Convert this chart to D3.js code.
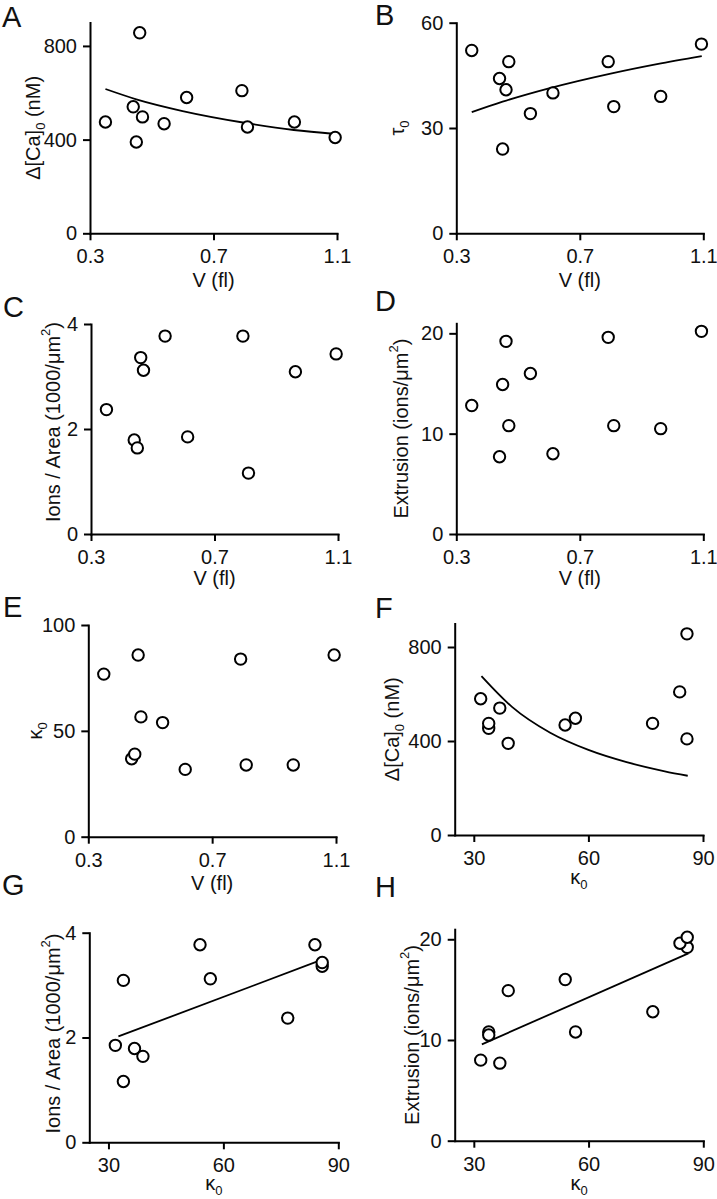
<!DOCTYPE html>
<html>
<head>
<meta charset="utf-8">
<script src="https://cdn.jsdelivr.net/npm/d3@7"></script>
<style>
  html, body { margin: 0; padding: 0; background: #fff; }
  svg { display: block; }
  text { font-family: "Liberation Sans", Arial, Helvetica, sans-serif; fill: #111; }
</style>
</head>
<body>
<svg id="chart" width="717" height="1199"></svg>
<script>
// ---------- data (one entry per cell) ----------
const cellV        = [0.35, 0.44, 0.45, 0.461, 0.47, 0.54, 0.613, 0.792, 0.81, 0.962, 1.094];
const kappa0       = [76.8, 36.8, 39.0, 85.8, 56.6, 53.9, 31.8, 83.9, 33.9, 33.9, 85.8];
const dCa0         = [475, 540, 390, 856, 497, 468, 580, 609, 454, 475, 409];
const tau0         = [52.1, 44.1, 24.0, 40.9, 48.9, 34.1, 40.0, 48.9, 36.1, 39.0, 53.9];
const ionsPerArea  = [2.37, 1.79, 1.64, 3.36, 3.12, 3.77, 1.85, 3.77, 1.16, 3.09, 3.43];
const extrusion    = [12.8, 7.7, 14.9, 19.2, 10.8, 16.0, 8.0, 19.6, 10.8, 10.5, 20.2];

// ---------- fitted curves ----------
const fitA_V   = [0.35, 0.45, 0.6, 0.8, 0.96, 1.095];
const fitA_dCa = [616, 572, 522, 472, 441, 424];
const fitB_V   = [0.35, 0.45, 0.6, 0.8, 0.95, 1.095];
const fitB_tau = [34.5, 37.5, 41.3, 45.5, 48.2, 50.5];
const fitF_k   = [32, 40, 50, 60, 70, 80, 86];
const fitF_dCa = [676, 545, 435, 362, 310, 271, 252];
const fitG_k   = [32.6, 85.6];
const fitG_ion = [2.02, 3.48];
const fitH_k   = [32.1, 86.1];
const fitH_ext = [9.57, 18.6];

// ---------- tick values ----------
const vTicks     = [0.3, 0.7, 1.1];
const kTicks     = [30, 60, 90];
const dCaTicks   = [0, 400, 800];
const tauTicks   = [0, 30, 60];
const ionTicks   = [0, 2, 4];
const extTicks   = [0, 10, 20];
const kappaTicks = [0, 50, 100];

// ---------- panel letters ----------
const panelLetters = ["A", "B", "C", "D", "E", "F", "G", "H"];

const svg = d3.select("#chart");

const zip = (a, b) => a.map((v, i) => [v, b[i]]);

// title builders
const T = {
  dCa: (t) => { t.append("tspan").text("Δ[Ca]"); t.append("tspan").attr("font-size", 13).attr("dy", 5).text("0"); t.append("tspan").attr("dy", -5).text(" (nM)"); },
  tau: (t) => { t.append("tspan").text("τ"); t.append("tspan").attr("font-size", 13).attr("dy", 5).text("0"); },
  kappa: (t) => { t.append("tspan").text("κ"); t.append("tspan").attr("font-size", 13).attr("dy", 5).text("0"); },
  ion: (t) => { t.append("tspan").text("Ions / Area (1000/μm"); t.append("tspan").attr("font-size", 13).attr("dy", -10).text("2"); t.append("tspan").attr("dy", 10).text(")"); },
  ext: (t) => { t.append("tspan").text("Extrusion (ions/μm"); t.append("tspan").attr("font-size", 13).attr("dy", -10).text("2"); t.append("tspan").attr("dy", 10).text(")"); },
  V: (t) => { t.text("V (fl)"); }
};

const fmtV = d3.format(".1f");
const fmtI = d3.format("d");

const panels = [
  { L: 0, xs: cellV, ys: dCa0, xDom: [0.3, 1.1], yDom: [0, 900], xTicks: vTicks, yTicks: dCaTicks, xFmt: fmtV,
    x0: 90, x1: 337, y0: 233.3, yTop: 22.5, yTitle: T.dCa, yTitleX: 40, yOff: 0, xTitle: T.V, xTitleY: 287, lx: 2, ly: 27,
    fit: zip(fitA_V, fitA_dCa) },
  { L: 1, xs: cellV, ys: tau0, xDom: [0.3, 1.1], yDom: [0, 60], xTicks: vTicks, yTicks: tauTicks, xFmt: fmtV,
    x0: 456.3, x1: 703.3, y0: 233.3, yTop: 22.7, yTitle: T.tau, yTitleX: 404, yOff: 0, xTitle: T.V, xTitleY: 287, lx: 375, ly: 25,
    fit: zip(fitB_V, fitB_tau) },
  { L: 2, xs: cellV, ys: ionsPerArea, xDom: [0.3, 1.1], yDom: [0, 4], xTicks: vTicks, yTicks: ionTicks, xFmt: fmtV,
    x0: 91, x1: 338, y0: 534, yTop: 324, yTitle: T.ion, yTitleX: 60, yOff: -7, xTitle: T.V, xTitleY: 585, lx: 3, ly: 317 },
  { L: 3, xs: cellV, ys: extrusion, xDom: [0.3, 1.1], yDom: [0, 21], xTicks: vTicks, yTicks: extTicks, xFmt: fmtV,
    x0: 456.3, x1: 703.3, y0: 534, yTop: 323.3, yTitle: T.ext, yTitleX: 408, yOff: 0, xTitle: T.V, xTitleY: 585, lx: 375, ly: 311 },
  { L: 4, xs: cellV, ys: kappa0, xDom: [0.3, 1.1], yDom: [0, 100], xTicks: vTicks, yTicks: kappaTicks, xFmt: fmtV,
    x0: 88.3, x1: 336, y0: 836.7, yTop: 625, yTitle: T.kappa, yTitleX: 42, yOff: 0, xTitle: T.V, xTitleY: 890, lx: 3, ly: 617 },
  { L: 5, xs: kappa0, ys: dCa0, xDom: [25, 90], yDom: [0, 900], xTicks: kTicks, yTicks: dCaTicks, xFmt: fmtI,
    x0: 454.7, x1: 703, y0: 835, yTop: 623.5, yTitle: T.dCa, yTitleX: 399, yOff: 0, xTitle: T.kappa, xTitleY: 884, lx: 375, ly: 618,
    fit: zip(fitF_k, fitF_dCa) },
  { L: 6, xs: kappa0, ys: ionsPerArea, xDom: [25, 90], yDom: [0, 4], xTicks: kTicks, yTicks: ionTicks, xFmt: fmtI,
    x0: 89.3, x1: 338.3, y0: 1142.3, yTop: 932.7, yTitle: T.ion, yTitleX: 60, yOff: -4, xTitle: T.kappa, xTitleY: 1190, lx: 2, ly: 895,
    fit: zip(fitG_k, fitG_ion) },
  { L: 7, xs: kappa0, ys: extrusion, xDom: [25, 90], yDom: [0, 21], xTicks: kTicks, yTicks: extTicks, xFmt: fmtI,
    x0: 454.7, x1: 703.3, y0: 1140.7, yTop: 929.2, yTitle: T.ext, yTitleX: 419, yOff: 0, xTitle: T.kappa, xTitleY: 1190, lx: 375, ly: 897,
    fit: zip(fitH_k, fitH_ext) }
];

panels.forEach(p => {
  const g = svg.append("g");
  const x = d3.scaleLinear().domain(p.xDom).range([p.x0, p.x1]);
  const y = d3.scaleLinear().domain(p.yDom).range([p.y0, p.yTop]);

  const xa = g.append("g").attr("transform", `translate(0,${p.y0})`)
    .call(d3.axisBottom(x).tickValues(p.xTicks).tickFormat(p.xFmt).tickSize(7).tickPadding(9).tickSizeOuter(0));
  const ya = g.append("g").attr("transform", `translate(${p.x0},0)`)
    .call(d3.axisLeft(y).tickValues(p.yTicks).tickFormat(fmtI).tickSize(7).tickPadding(6).tickSizeOuter(0));
  [xa, ya].forEach(a => {
    a.select(".domain").attr("stroke", "#000").attr("stroke-width", 2).attr("stroke-linecap", "square");
    a.selectAll(".tick line").attr("stroke", "#000").attr("stroke-width", 2);
    a.selectAll(".tick text").attr("font-size", 20).attr("fill", "#111")
      .attr("font-family", "'Liberation Sans', Arial, sans-serif");
  });

  // fit line
  if (p.fit) {
    g.append("path").datum(p.fit)
      .attr("d", d3.line().x(d => x(d[0])).y(d => y(d[1])).curve(d3.curveMonotoneX))
      .attr("fill", "none").attr("stroke", "#000").attr("stroke-width", 1.8);
  }

  // points
  g.selectAll("circle.pt").data(zip(p.xs, p.ys)).enter().append("circle")
    .attr("class", "pt")
    .attr("cx", d => x(d[0])).attr("cy", d => y(d[1])).attr("r", 5.7)
    .attr("fill", "#fff").attr("stroke", "#000").attr("stroke-width", 2);

  // y title
  const yt = g.append("text")
    .attr("transform", `translate(${p.yTitleX},${(p.y0 + p.yTop) / 2 + p.yOff}) rotate(-90)`)
    .attr("text-anchor", "middle").attr("font-size", 20);
  p.yTitle(yt);

  // x title
  const xt = g.append("text")
    .attr("x", (p.x0 + p.x1) / 2).attr("y", p.xTitleY)
    .attr("text-anchor", "middle").attr("font-size", 20);
  p.xTitle(xt);

  // panel letter
  g.append("text").attr("x", p.lx).attr("y", p.ly).attr("font-size", 29).attr("fill", "#000")
    .text(panelLetters[p.L]);
});
</script>
</body>
</html>
